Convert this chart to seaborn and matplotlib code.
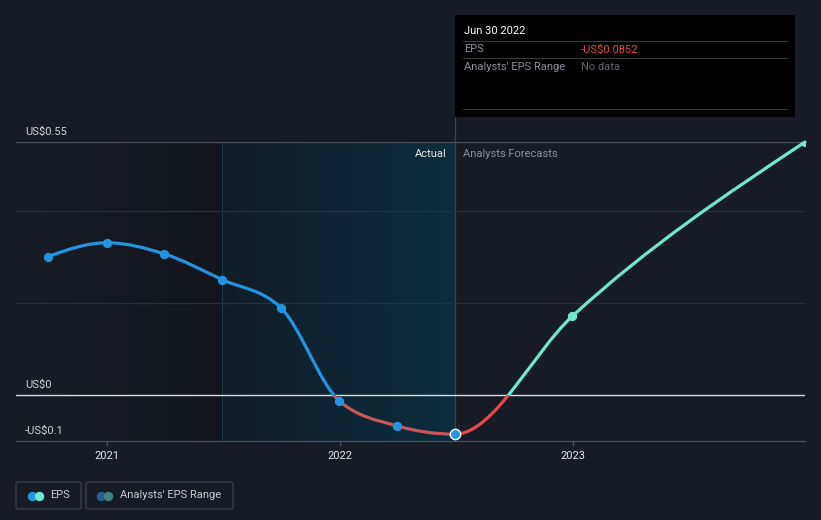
import numpy as np
import pandas as pd
import matplotlib
matplotlib.use("Agg")
import matplotlib.pyplot as plt
import matplotlib.dates as mdates
from matplotlib.path import Path
from matplotlib.patches import PathPatch, Rectangle, FancyBboxPatch
from matplotlib.lines import Line2D
from matplotlib.colors import LinearSegmentedColormap
import seaborn as sns

# ---------------- data ----------------
actual_dates = ["2020-09-30", "2020-12-31", "2021-03-31", "2021-06-30",
                "2021-09-30", "2021-12-31", "2022-03-31", "2022-06-30"]
actual_eps = [0.301, 0.331, 0.307, 0.251, 0.190, -0.013, -0.067, -0.0852]
forecast_dates = ["2022-12-31", "2023-12-31"]
forecast_eps = [0.171, 0.55]
ytick_values = [0.55, 0.0, -0.1]
ytick_labels = ["US$0.55", "US$0", "-US$0.1"]
xtick_dates = ["2021-01-01", "2022-01-01", "2023-01-01"]
xtick_labels = ["2021", "2022", "2023"]
grid_values = [0.2, 0.4]
tooltip_date = "Jun 30 2022"
tooltip_eps = "-US$0.0852"

# ---------------- style ----------------
BG = "#161b26"
BLUE = "#2394df"
TEAL = "#6ee7cf"
RED_PAST = "#c9545a"
RED_FC = "#e5484d"
W, H = 821, 520

sns.set_theme(style="dark")
plt.rcParams["font.family"] = ["Roboto", "DejaVu Sans"]

fig = plt.figure(figsize=(W / 100, H / 100), dpi=100, facecolor=BG)


def fx(px):
    return px / W


def fy(py):
    return 1 - py / H


ax = fig.add_axes([fx(16), fy(441), (805 - 16) / W, (441 - 142) / H])
ax.set_facecolor("none")

adates = pd.to_datetime(actual_dates)
fdates = pd.to_datetime(forecast_dates)
xmin = mdates.date2num(pd.Timestamp("2020-08-11"))
xmax = mdates.date2num(pd.Timestamp("2023-12-31"))
ymin, ymax = -0.1, 0.55

# background regions
split = mdates.date2num(pd.Timestamp("2021-06-30"))
now = mdates.date2num(pd.Timestamp("2022-06-30"))
cm_dark = LinearSegmentedColormap.from_list("d", ["#181c25", "#12151c"])
cm_teal = LinearSegmentedColormap.from_list("t", ["#111d28", "#0b2d3d"])
grad = np.linspace(0, 1, 256).reshape(1, -1)
ax.imshow(grad, extent=[xmin, split, ymin, ymax], aspect="auto", cmap=cm_dark, zorder=0)
ax.imshow(grad, extent=[split, now, ymin, ymax], aspect="auto", cmap=cm_teal, zorder=0)
ax.axvline(split, color="#1d3a48", lw=0.8, zorder=1)
ax.axvline(now, 0, (441 - 117) / 299, color="#2a4b5c", lw=0.9, zorder=1, clip_on=False)

# gridlines
for g in grid_values:
    ax.axhline(g, color="#2a303a", lw=0.9, zorder=1)
ax.axhline(0.55, color="#4b5059", lw=0.9, zorder=1)
ax.axhline(0.0, color="#dcdcdc", lw=1.0, zorder=2)

# ---------------- smooth curve (monotone X) ----------------
xs = np.array(list(mdates.date2num(adates)) + list(mdates.date2num(fdates)))
ys = np.array(actual_eps + forecast_eps)
n = len(xs)
h = np.diff(xs)
s = np.diff(ys) / h
t = np.zeros(n)
for i in range(1, n - 1):
    p = (s[i - 1] * h[i] + s[i] * h[i - 1]) / (h[i - 1] + h[i])
    t[i] = (np.sign(s[i - 1]) + np.sign(s[i])) * min(abs(s[i - 1]), abs(s[i]), 0.5 * abs(p))
t[0] = (3 * s[0] - t[1]) / 2
t[-1] = (3 * s[-1] - t[-2]) / 2


def curve_path(i0, i1):
    verts = [(xs[i0], ys[i0])]
    codes = [Path.MOVETO]
    for i in range(i0, i1):
        dx = (xs[i + 1] - xs[i]) / 3
        verts += [(xs[i] + dx, ys[i] + dx * t[i]),
                  (xs[i + 1] - dx, ys[i + 1] - dx * t[i + 1]),
                  (xs[i + 1], ys[i + 1])]
        codes += [Path.CURVE4] * 3
    return Path(verts, codes)


na = len(actual_eps)
segments = [(0, na - 1, BLUE, RED_PAST), (na - 1, n - 1, TEAL, RED_FC)]
for i0, i1, cpos, cneg in segments:
    path = curve_path(i0, i1)
    for col, (y0, y1) in [(cpos, (0, 5)), (cneg, (-5, 0))]:
        pp = PathPatch(path, facecolor="none", edgecolor=col, lw=2.3,
                       zorder=4, capstyle="round", joinstyle="round")
        ax.add_patch(pp)
        clip = Rectangle((xmin - 500, y0), xmax - xmin + 1000, y1 - y0,
                         transform=ax.transData)
        pp.set_clip_path(clip)

# markers
dfa = pd.DataFrame({"date": mdates.date2num(adates), "eps": actual_eps})
dff = pd.DataFrame({"date": mdates.date2num(fdates), "eps": forecast_eps})
sns.scatterplot(data=dfa.iloc[:-1], x="date", y="eps", color=BLUE, s=45,
                linewidth=0, zorder=5, ax=ax)
sns.scatterplot(data=dfa.iloc[-1:], x="date", y="eps", color=BLUE, s=55,
                edgecolor="white", linewidth=1.0, zorder=6, ax=ax)
sns.scatterplot(data=dff, x="date", y="eps", color=TEAL, s=45,
                linewidth=0, zorder=5, ax=ax)

ax.set_xlim(xmin, xmax)
ax.set_ylim(ymin, ymax)
ax.set_xlabel("")
ax.set_ylabel("")
ax.grid(False)
for sp in ["top", "right", "left"]:
    ax.spines[sp].set_visible(False)
ax.spines["bottom"].set_color("#4b5059")
ax.spines["bottom"].set_linewidth(0.9)
ax.set_xticks(mdates.date2num(pd.to_datetime(xtick_dates)))
ax.set_xticklabels(xtick_labels)
ax.tick_params(axis="x", colors="#4b5059", length=3.5, width=0.9, pad=4,
               labelcolor="#e6e6e6", labelsize=8, bottom=True)
ax.set_yticks([])

# y labels (above lines)
for v, lab in zip(ytick_values, ytick_labels):
    ax.annotate(lab, xy=(0, v), xycoords=("axes fraction", "data"),
                xytext=(9, 5), textcoords="offset pixels", ha="left", va="bottom",
                color="#d4d4d4", fontsize=8, annotation_clip=False)

# Actual / Forecast labels
ax.annotate("Actual", xy=(now, 0.55), xytext=(-8, -12), textcoords="offset pixels",
            ha="right", va="center", color="#e8e8e8", fontsize=8)
ax.annotate("Analysts Forecasts", xy=(now, 0.55), xytext=(8, -12),
            textcoords="offset pixels", ha="left", va="center", color="#8b9099", fontsize=8)

# ---------------- tooltip ----------------
fig.add_artist(Rectangle((fx(455), fy(117)), fx(795) - fx(455), fy(15) - fy(117),
                         transform=fig.transFigure, facecolor="#000000",
                         edgecolor="none", zorder=10))
for yy in [41, 58, 109]:
    fig.add_artist(Line2D([fx(463), fx(787)], [fy(yy), fy(yy)], transform=fig.transFigure,
                          color="#3a3a3a", lw=0.8, zorder=11))
fig.text(fx(464), fy(31), tooltip_date, color="#ffffff", fontsize=8, va="center", zorder=12)
fig.text(fx(464), fy(49.5), "EPS", color="#8a8f98", fontsize=8, va="center", zorder=12)
fig.text(fx(581), fy(49.5), tooltip_eps, color="#e5484d", fontsize=8, va="center", zorder=12)
fig.text(fx(464), fy(66.5), "Analysts' EPS Range", color="#8a8f98", fontsize=8,
         va="center", zorder=12)
fig.text(fx(581), fy(66.5), "No data", color="#63676e", fontsize=8, va="center", zorder=12)

# ---------------- legend ----------------
for (x0, x1) in [(16, 81), (86, 233)]:
    fig.add_artist(FancyBboxPatch((fx(x0), fy(509)), fx(x1) - fx(x0), fy(482) - fy(509),
                                  boxstyle="round,pad=0,rounding_size=0.003",
                                  transform=fig.transFigure, facecolor="none",
                                  edgecolor="#3c414a", lw=0.9))
for (px, col) in [(32, BLUE), (38.5, TEAL), (101, "#22608c"), (107.5, "#3d8580")]:
    fig.add_artist(Line2D([fx(px)], [fy(495.5)], transform=fig.transFigure, marker="o",
                          markersize=6.8, color=col, markeredgewidth=0, linestyle="none"))
fig.text(fx(50), fy(495.5), "EPS", color="#c8cbd0", fontsize=8, va="center")
fig.text(fx(120), fy(495.5), "Analysts' EPS Range", color="#c8cbd0", fontsize=8, va="center")

fig.savefig("out.png", dpi=100, facecolor=BG)
